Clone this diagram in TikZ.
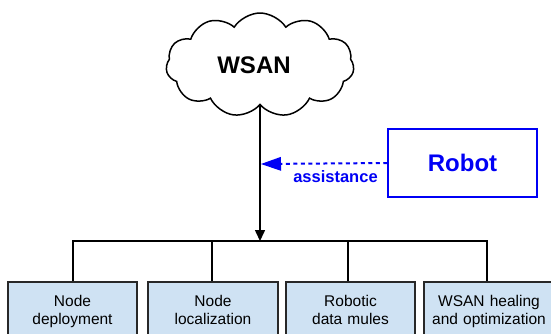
\documentclass[tikz,border=0pt]{standalone}
\usepackage{fontspec}
\setmainfont{Liberation Sans}
\usetikzlibrary{shapes.symbols,arrows.meta}
\definecolor{robotblue}{RGB}{0,0,245}
\definecolor{boxfill}{RGB}{207,226,243}
\definecolor{boxline}{RGB}{40,40,40}
\tikzset{
  conn/.style={line width=1.5pt, draw=black},
  topic/.style={draw=boxline, line width=1.5pt, fill=boxfill, anchor=north,
    text width=#1, align=center, inner xsep=0pt, inner ysep=14pt,
    font=\fontsize{15.5}{18}\selectfont},
  robotbox/.style={draw=robotblue, line width=1.5pt, minimum width=149pt, minimum height=68pt,
    text=robotblue, font=\fontsize{24}{28}\selectfont\bfseries},
}
\begin{document}
\begin{tikzpicture}[x=1pt,y=-1pt]
\useasboundingbox (0,0) rectangle (551,333);
\clip (0,0) rectangle (551,333);
% cloud
\node[cloud, cloud puffs=11, cloud puff arc=115, aspect=1.8, draw, line width=1.5pt,
  minimum width=188pt, minimum height=104pt, inner sep=0pt,
  font=\fontsize{24}{28}\selectfont\bfseries] (wsan) at (260,65) {\hspace{-12pt}WSAN};
% robot
\node[robotbox] (robot) at (462.5,163) {Robot};
% bus coordinates
\coordinate (bus) at (260,241);
\coordinate (tip) at (261,164);
% boxes
\node[topic=129pt] (b1) at (72.5,281) {Node\\deployment};
\node[topic=130pt] (b2) at (213,281) {Node\\localization};
\node[topic=129pt] (b3) at (350.5,281) {Robotic\\data mules};
\node[topic=130pt] (b4) at (489,281) {WSAN healing\\and optimization};
% connectors
\draw[conn, -{Triangle[length=11pt,width=10pt]}] (wsan.south -| bus) -- (bus);
\coordinate (c1) at (73,241);
\coordinate (c2) at (212,241);
\coordinate (c3) at (348,241);
\coordinate (c4) at (487,241);
\draw[conn] (c1 |- b1.north) -- (c1) -- (c4) -- (c4 |- b4.north);
\draw[conn] (c2) -- (c2 |- b2.north);
\draw[conn] (c3) -- (c3 |- b3.north);
% assistance
\draw[robotblue, line width=2pt, dash pattern=on 4pt off 3.5pt,
  -{Triangle[length=20pt,width=14pt,line width=0pt]}] (robot.west) -- (tip)
  node[pos=0.41, yshift=-13pt, font=\fontsize{16.5}{20}\selectfont\bfseries, text=robotblue] (assist) {assistance};
\end{tikzpicture}
\end{document}
